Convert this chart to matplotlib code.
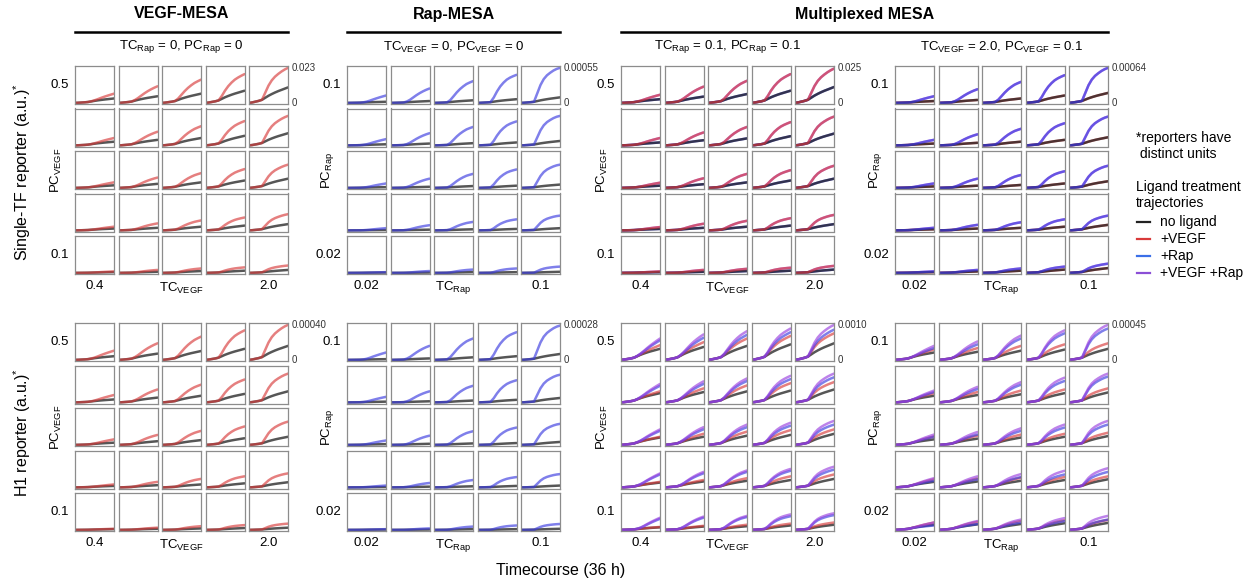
import matplotlib
matplotlib.use('Agg')
import matplotlib.pyplot as plt
from matplotlib.lines import Line2D
import numpy as np

plt.rcParams['font.family'] = ['Liberation Sans', 'DejaVu Sans']

W, H = 1250, 583

# ── Data (curve end-points as fraction of each block's y-max) ──
TIME_H = [0, 3, 6, 9, 12, 15, 18, 21, 24, 27, 30, 33, 36]
BASE_SHAPE = [0, 0.03, 0.08, 0.13, 0.20, 0.33, 0.46, 0.57, 0.67, 0.76, 0.84, 0.92, 1.0]
# ligand-induced extra signal, one shape per TC column (low -> high)
LIG_SHAPE = [
    [0, 0, 0, 0, 0, 0.03, 0.11, 0.25, 0.42, 0.58, 0.73, 0.87, 1.0],
    [0, 0, 0, 0, 0, 0.06, 0.18, 0.35, 0.52, 0.67, 0.80, 0.91, 1.0],
    [0, 0, 0, 0, 0, 0.10, 0.28, 0.47, 0.63, 0.76, 0.87, 0.94, 1.0],
    [0, 0, 0, 0, 0, 0.17, 0.40, 0.59, 0.73, 0.84, 0.91, 0.96, 1.0],
    [0, 0, 0, 0, 0, 0.26, 0.52, 0.70, 0.81, 0.88, 0.94, 0.98, 1.0],
]

# VEGF-MESA, single-TF reporter
VM_TF_NOLIG = [[0.12, 0.18, 0.25, 0.33, 0.42], [0.10, 0.15, 0.20, 0.26, 0.33],
               [0.07, 0.11, 0.15, 0.20, 0.25], [0.05, 0.07, 0.10, 0.13, 0.17],
               [0.02, 0.03, 0.05, 0.06, 0.08]]
VM_TF_VEGF = [[0.25, 0.45, 0.63, 0.78, 0.95], [0.20, 0.37, 0.52, 0.66, 0.80],
              [0.15, 0.28, 0.40, 0.51, 0.63], [0.10, 0.19, 0.27, 0.35, 0.44],
              [0.04, 0.08, 0.12, 0.15, 0.20]]
# Rap-MESA, single-TF reporter
RM_TF_NOLIG = [[0.03, 0.05, 0.07, 0.10, 0.15], [0.03, 0.05, 0.06, 0.08, 0.12],
               [0.02, 0.03, 0.05, 0.06, 0.09], [0.01, 0.02, 0.03, 0.04, 0.06],
               [0.01, 0.01, 0.02, 0.02, 0.03]]
RM_TF_RAP = [[0.20, 0.39, 0.59, 0.76, 0.95], [0.17, 0.33, 0.50, 0.65, 0.80],
             [0.12, 0.25, 0.38, 0.50, 0.63], [0.06, 0.14, 0.23, 0.30, 0.40],
             [0.02, 0.05, 0.09, 0.12, 0.17]]
# Multiplexed, VEGF sweep, single-TF reporter
MV_TF_NOLIG = [[0.10, 0.17, 0.24, 0.33, 0.43], [0.08, 0.14, 0.19, 0.25, 0.32],
               [0.06, 0.10, 0.15, 0.20, 0.25], [0.04, 0.07, 0.10, 0.13, 0.17],
               [0.02, 0.03, 0.05, 0.06, 0.09]]
MV_TF_VEGF = [[0.22, 0.44, 0.60, 0.78, 0.93], [0.20, 0.35, 0.50, 0.63, 0.78],
              [0.14, 0.26, 0.38, 0.48, 0.60], [0.09, 0.18, 0.26, 0.33, 0.42],
              [0.04, 0.08, 0.11, 0.14, 0.19]]
# Multiplexed, Rap sweep, single-TF reporter
MR_TF_NOLIG = [[0.05, 0.08, 0.12, 0.20, 0.27], [0.05, 0.07, 0.10, 0.15, 0.22],
               [0.04, 0.06, 0.08, 0.12, 0.18], [0.03, 0.05, 0.07, 0.10, 0.15],
               [0.02, 0.04, 0.06, 0.09, 0.13]]
MR_TF_RAP = [[0.18, 0.37, 0.57, 0.75, 0.95], [0.15, 0.30, 0.45, 0.60, 0.78],
             [0.12, 0.25, 0.35, 0.45, 0.60], [0.07, 0.15, 0.22, 0.30, 0.40],
             [0.04, 0.08, 0.12, 0.17, 0.25]]

# VEGF-MESA, H1 reporter
VM_H1_NOLIG = [[0.10, 0.17, 0.24, 0.30, 0.38], [0.08, 0.13, 0.18, 0.23, 0.30],
               [0.06, 0.10, 0.13, 0.18, 0.22], [0.04, 0.06, 0.08, 0.11, 0.14],
               [0.02, 0.03, 0.04, 0.05, 0.06]]
VM_H1_VEGF = [[0.25, 0.45, 0.63, 0.80, 0.95], [0.20, 0.35, 0.48, 0.62, 0.78],
              [0.15, 0.27, 0.38, 0.50, 0.63], [0.08, 0.15, 0.23, 0.30, 0.38],
              [0.03, 0.06, 0.10, 0.13, 0.17]]
# Rap-MESA, H1 reporter
RM_H1_NOLIG = [[0.02, 0.04, 0.07, 0.10, 0.16], [0.02, 0.03, 0.05, 0.07, 0.12],
               [0.02, 0.03, 0.04, 0.05, 0.08], [0.01, 0.02, 0.03, 0.04, 0.05],
               [0.01, 0.01, 0.02, 0.02, 0.03]]
RM_H1_RAP = [[0.20, 0.38, 0.58, 0.75, 0.93], [0.15, 0.30, 0.45, 0.60, 0.75],
             [0.12, 0.25, 0.37, 0.47, 0.57], [0.05, 0.12, 0.20, 0.28, 0.36],
             [0.02, 0.04, 0.09, 0.12, 0.16]]
# Multiplexed, VEGF sweep, H1 reporter
MV_H1_NOLIG = [[0.30, 0.35, 0.38, 0.42, 0.45], [0.25, 0.28, 0.30, 0.32, 0.35],
               [0.20, 0.22, 0.25, 0.27, 0.30], [0.13, 0.16, 0.18, 0.20, 0.23],
               [0.07, 0.09, 0.10, 0.12, 0.14]]
MV_H1_VEGF = [[0.40, 0.48, 0.58, 0.65, 0.72], [0.30, 0.38, 0.46, 0.52, 0.55],
              [0.22, 0.30, 0.36, 0.40, 0.42], [0.15, 0.20, 0.25, 0.30, 0.35],
              [0.08, 0.11, 0.14, 0.17, 0.20]]
MV_H1_RAP = [[0.53, 0.60, 0.68, 0.75, 0.82], [0.45, 0.50, 0.58, 0.63, 0.68],
             [0.38, 0.42, 0.48, 0.52, 0.55], [0.35, 0.38, 0.42, 0.45, 0.48],
             [0.30, 0.33, 0.35, 0.37, 0.40]]
MV_H1_BOTH = [[0.58, 0.69, 0.78, 0.85, 0.95], [0.50, 0.57, 0.65, 0.72, 0.78],
              [0.42, 0.48, 0.55, 0.60, 0.65], [0.38, 0.42, 0.46, 0.50, 0.56],
              [0.33, 0.36, 0.38, 0.42, 0.45]]
# Multiplexed, Rap sweep, H1 reporter
MR_H1_NOLIG = [[0.20, 0.22, 0.25, 0.28, 0.30], [0.18, 0.20, 0.22, 0.25, 0.27],
               [0.15, 0.17, 0.20, 0.22, 0.24], [0.15, 0.16, 0.18, 0.20, 0.22],
               [0.14, 0.15, 0.16, 0.18, 0.19]]
MR_H1_VEGF = [[0.28, 0.32, 0.38, 0.42, 0.45], [0.25, 0.28, 0.32, 0.35, 0.38],
              [0.23, 0.25, 0.28, 0.30, 0.33], [0.22, 0.24, 0.26, 0.28, 0.30],
              [0.20, 0.22, 0.24, 0.26, 0.27]]
MR_H1_RAP = [[0.32, 0.42, 0.58, 0.72, 0.85], [0.28, 0.36, 0.48, 0.58, 0.70],
             [0.22, 0.28, 0.38, 0.47, 0.55], [0.18, 0.22, 0.28, 0.35, 0.42],
             [0.12, 0.16, 0.20, 0.24, 0.28]]
MR_H1_BOTH = [[0.38, 0.50, 0.66, 0.80, 0.95], [0.32, 0.42, 0.55, 0.67, 0.78],
              [0.28, 0.35, 0.45, 0.55, 0.65], [0.25, 0.30, 0.36, 0.45, 0.52],
              [0.20, 0.24, 0.28, 0.32, 0.38]]

Y_MAX_LABELS = [['0.023', '0.00055', '0.025', '0.00064'],
                ['0.00040', '0.00028', '0.0010', '0.00045']]

BLOCK_TITLES = ['VEGF-MESA', 'Rap-MESA', 'Multiplexed MESA']
SUBTITLES = [r'TC$_\mathregular{Rap}$ = 0, PC$_\mathregular{Rap}$ = 0',
             r'TC$_\mathregular{VEGF}$ = 0, PC$_\mathregular{VEGF}$ = 0',
             r'TC$_\mathregular{Rap}$ = 0.1, PC$_\mathregular{Rap}$ = 0.1',
             r'TC$_\mathregular{VEGF}$ = 2.0, PC$_\mathregular{VEGF}$ = 0.1']
PC_NAMES = [r'PC$_\mathregular{VEGF}$', r'PC$_\mathregular{Rap}$'] * 2
TC_NAMES = [r'TC$_\mathregular{VEGF}$', r'TC$_\mathregular{Rap}$'] * 2
PC_RANGE = [('0.5', '0.1'), ('0.1', '0.02'), ('0.5', '0.1'), ('0.1', '0.02')]
TC_RANGE = [('0.4', '2.0'), ('0.02', '0.1'), ('0.4', '2.0'), ('0.02', '0.1')]

TREATMENTS = ['no ligand', '+VEGF', '+Rap', '+VEGF +Rap']
LEGEND_COLORS = ['#222222', '#d93a3a', '#3b6fe8', '#8b4fd6']
CURVE_COLORS = {'no ligand': '#151515', '+VEGF': '#d83a3a',
                '+Rap': '#3a3ae0', '+VEGF +Rap': '#9a40e0'}
CURVE_ALPHA = {'no ligand': 0.72, '+VEGF': 0.65, '+Rap': 0.65, '+VEGF +Rap': 0.65}

# which curves sit in which block, in drawing order:
# (reporter row, block) -> [(treatment, end values)]; the first entry is the basal curve
PANELS = {
    (0, 0): [('no ligand', VM_TF_NOLIG), ('+VEGF', VM_TF_VEGF)],
    (0, 1): [('no ligand', RM_TF_NOLIG), ('+Rap', RM_TF_RAP)],
    (0, 2): [('+Rap', MV_TF_NOLIG), ('+VEGF +Rap', MV_TF_VEGF),
             ('no ligand', MV_TF_NOLIG), ('+VEGF', MV_TF_VEGF)],
    (0, 3): [('+VEGF', MR_TF_NOLIG), ('+VEGF +Rap', MR_TF_RAP),
             ('no ligand', MR_TF_NOLIG), ('+Rap', MR_TF_RAP)],
    (1, 0): [('no ligand', VM_H1_NOLIG), ('+VEGF', VM_H1_VEGF)],
    (1, 1): [('no ligand', RM_H1_NOLIG), ('+Rap', RM_H1_RAP)],
    (1, 2): [('no ligand', MV_H1_NOLIG), ('+VEGF', MV_H1_VEGF),
             ('+Rap', MV_H1_RAP), ('+VEGF +Rap', MV_H1_BOTH)],
    (1, 3): [('no ligand', MR_H1_NOLIG), ('+VEGF', MR_H1_VEGF),
             ('+Rap', MR_H1_RAP), ('+VEGF +Rap', MR_H1_BOTH)],
}

# ── Layout (pixels) ──
BLOCK_X = [75, 347, 621, 895]
ROW_Y = [66, 323]
PW, PH, GAP = 39, 38, 4.5


def fx(x):
    return x / W


def fy(y):
    return 1 - y / H


fig = plt.figure(figsize=(W / 100, H / 100), dpi=100)
fig.patch.set_facecolor('white')

t = np.array(TIME_H)
base = np.array(BASE_SHAPE)

for (r, b), curves in PANELS.items():
    x0, y0 = BLOCK_X[b], ROW_Y[r]
    nolig = np.array(curves[0][1])
    for i in range(5):
        for j in range(5):
            left = x0 + j * (PW + GAP)
            top = y0 + i * (PH + GAP)
            ax = fig.add_axes([fx(left), fy(top + PH), PW / W, PH / H])
            b_end = nolig[i, j]
            lig = np.array(LIG_SHAPE[j])
            for name, vals in curves:
                end = np.array(vals)[i, j]
                y = b_end * base + (end - b_end) * lig
                ax.plot(t, y, color=CURVE_COLORS[name], lw=1.8,
                        alpha=CURVE_ALPHA[name], solid_capstyle='round')
            ax.set_xlim(0, 36)
            ax.set_ylim(-0.03, 1.0)
            ax.set_xticks([])
            ax.set_yticks([])
            for s in ax.spines.values():
                s.set_color('#8c8c8c')
                s.set_linewidth(0.9)

    right = x0 + 5 * PW + 4 * GAP
    bottom = y0 + 5 * PH + 4 * GAP
    # y-range labels
    fig.text(fx(right + 4), fy(y0 + 2), Y_MAX_LABELS[r][b], fontsize=7,
             ha='left', va='center', color='#333')
    fig.text(fx(right + 4), fy(y0 + PH - 1), '0', fontsize=7,
             ha='left', va='center', color='#333')
    # PC labels
    fig.text(fx(x0 - 6), fy(y0 + PH / 2), PC_RANGE[b][0], fontsize=9.5,
             ha='right', va='center')
    fig.text(fx(x0 - 6), fy(bottom - PH / 2), PC_RANGE[b][1], fontsize=9.5,
             ha='right', va='center')
    fig.text(fx(x0 - 19), fy((y0 + bottom) / 2), PC_NAMES[b], fontsize=9.5,
             ha='center', va='center', rotation=90)
    # TC labels
    fig.text(fx(x0 + PW / 2), fy(bottom + 12), TC_RANGE[b][0], fontsize=9.5,
             ha='center', va='center')
    fig.text(fx(x0 + 4 * (PW + GAP) + PW / 2), fy(bottom + 12), TC_RANGE[b][1],
             fontsize=9.5, ha='center', va='center')
    fig.text(fx(x0 + 2 * (PW + GAP) + PW / 2), fy(bottom + 14), TC_NAMES[b],
             fontsize=9.5, ha='center', va='center')

# ── Headers ──
block_w = 5 * PW + 4 * GAP
spans = [(BLOCK_X[0], BLOCK_X[0] + block_w), (BLOCK_X[1], BLOCK_X[1] + block_w),
         (BLOCK_X[2], BLOCK_X[3] + block_w)]
for title, (a, c) in zip(BLOCK_TITLES, spans):
    fig.text(fx((a + c) / 2), fy(14), title, fontsize=11.5, weight='bold',
             ha='center', va='center')
    fig.add_artist(Line2D([fx(a), fx(c)], [fy(32), fy(32)], color='black', lw=1.8))
for b, sub in enumerate(SUBTITLES):
    fig.text(fx(BLOCK_X[b] + block_w / 2), fy(47), sub, fontsize=9.5,
             ha='center', va='center')

# ── Axis titles ──
fig.text(fx(22), fy(172), r'Single-TF reporter (a.u.)$^\mathregular{*}$', fontsize=11.5,
         rotation=90, ha='center', va='center')
fig.text(fx(22), fy(432), r'H1 reporter (a.u.)$^\mathregular{*}$', fontsize=11.5,
         rotation=90, ha='center', va='center')
fig.text(fx(561), fy(571), 'Timecourse (36 h)', fontsize=11.5, ha='center', va='center')

# ── Legend ──
fig.text(fx(1136), fy(138), '*reporters have', fontsize=10, ha='left', va='center')
fig.text(fx(1136), fy(154), ' distinct units', fontsize=10, ha='left', va='center')
fig.text(fx(1136), fy(187), 'Ligand treatment', fontsize=10, ha='left', va='center')
fig.text(fx(1136), fy(203), 'trajectories', fontsize=10, ha='left', va='center')
for k, (name, col) in enumerate(zip(TREATMENTS, LEGEND_COLORS)):
    yy = 222 + k * 17
    fig.add_artist(Line2D([fx(1137), fx(1150)], [fy(yy), fy(yy)], color=col, lw=1.6))
    fig.text(fx(1160), fy(yy), name, fontsize=10, ha='left', va='center')

fig.savefig('out.png', dpi=100, facecolor='white')
